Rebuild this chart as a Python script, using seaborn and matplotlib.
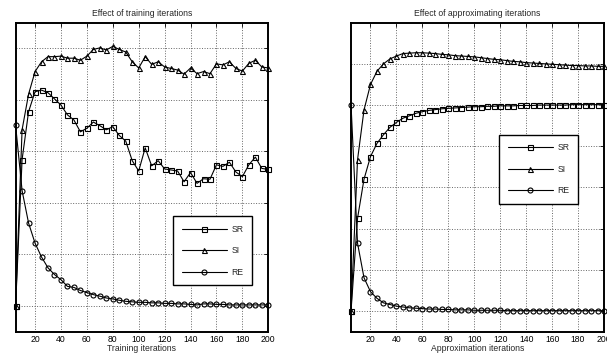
import matplotlib
matplotlib.use("Agg")
import matplotlib.pyplot as plt
import seaborn as sns
import pandas as pd

# ---- data ----
iterations = [5, 10, 15, 20, 25, 30, 35, 40, 45, 50, 55, 60, 65, 70, 75, 80, 85, 90, 95, 100,
              105, 110, 115, 120, 125, 130, 135, 140, 145, 150, 155, 160, 165, 170, 175, 180,
              185, 190, 195, 200]

train_SR = [0, 2.84, 3.77, 4.16, 4.19, 4.14, 4.02, 3.90, 3.71, 3.61, 3.38, 3.45, 3.57, 3.50,
            3.42, 3.48, 3.31, 3.20, 2.82, 2.62, 3.07, 2.72, 2.82, 2.66, 2.64, 2.62, 2.41, 2.59,
            2.38, 2.47, 2.46, 2.74, 2.71, 2.79, 2.60, 2.51, 2.74, 2.89, 2.67, 2.65]
train_SI = [0, 3.42, 4.11, 4.55, 4.74, 4.84, 4.84, 4.85, 4.81, 4.81, 4.77, 4.85, 4.98, 5.01,
            4.97, 5.04, 4.98, 4.93, 4.74, 4.62, 4.84, 4.69, 4.74, 4.64, 4.61, 4.58, 4.50, 4.62,
            4.51, 4.55, 4.51, 4.70, 4.68, 4.74, 4.61, 4.56, 4.71, 4.77, 4.64, 4.62]
train_RE = [3.51, 2.24, 1.61, 1.22, 0.95, 0.74, 0.61, 0.51, 0.38, 0.36, 0.30, 0.26, 0.22, 0.19,
            0.155, 0.136, 0.11, 0.09, 0.08, 0.07, 0.07, 0.06, 0.06, 0.05, 0.05, 0.04, 0.04, 0.03,
            0.02, 0.04, 0.04, 0.03, 0.03, 0.02, 0.02, 0.02, 0.02, 0.02, 0.02, 0.02]

approx_SR = [0, 2.25, 3.20, 3.75, 4.07, 4.28, 4.46, 4.58, 4.68, 4.74, 4.80, 4.84, 4.87, 4.89,
             4.91, 4.92, 4.93, 4.94, 4.95, 4.96, 4.96, 4.97, 4.97, 4.98, 4.98, 4.98, 4.99, 4.99,
             4.99, 5.00, 5.00, 5.00, 5.00, 5.00, 5.01, 5.01, 5.01, 5.01, 5.01, 5.01]
approx_SI = [0, 3.67, 4.88, 5.50, 5.82, 6.00, 6.12, 6.19, 6.25, 6.26, 6.27, 6.27, 6.26, 6.25,
             6.23, 6.22, 6.20, 6.19, 6.18, 6.17, 6.15, 6.13, 6.11, 6.10, 6.08, 6.06, 6.05, 6.03,
             6.02, 6.01, 6.00, 5.99, 5.98, 5.97, 5.96, 5.96, 5.95, 5.95, 5.94, 5.94]
approx_RE = [5.01, 1.65, 0.81, 0.47, 0.31, 0.20, 0.16, 0.12, 0.10, 0.08, 0.07, 0.06, 0.05, 0.05,
             0.04, 0.04, 0.03, 0.03, 0.03, 0.02, 0.02, 0.02, 0.02, 0.02, 0.01, 0.01, 0.01, 0.01,
             0.01, 0.01, 0.01, 0.01, 0.01, 0.01, 0.01, 0.01, 0.01, 0.01, 0.01, 0.01]

series_names = ["SR", "SI", "RE"]
series_markers = {"SR": "s", "SI": "^", "RE": "o"}
x_ticks = [20, 40, 60, 80, 100, 120, 140, 160, 180, 200]

titles = ["Effect of training iterations", "Effect of approximating iterations"]
xlabels = ["Training iterations", "Approximation iterations"]

# ---- style ----
sns.set_style("white")
plt.rcParams["font.family"] = ["Liberation Sans", "DejaVu Sans"]

fig = plt.figure(figsize=(6.07, 3.54), dpi=100)
ax1 = fig.add_axes([0.0257, 0.063, 0.4163, 0.873])
ax2 = fig.add_axes([0.5783, 0.063, 0.4168, 0.873])

panels = [
    (ax1, {"SR": train_SR, "SI": train_SI, "RE": train_RE}, (-0.5, 5.5), [0, 1, 2, 3, 4, 5],
     (0.623, 0.374)),
    (ax2, {"SR": approx_SR, "SI": approx_SI, "RE": approx_RE}, (-0.5, 7.0), [0, 1, 2, 3, 4, 5, 6],
     (0.585, 0.637)),
]

for i, (ax, data, ylim, yticks, leg_anchor) in enumerate(panels):
    for name in series_names:
        df = pd.DataFrame({"x": iterations, "y": data[name]})
        sns.lineplot(data=df, x="x", y="y", ax=ax, color="black", linewidth=0.8,
                     marker=series_markers[name], markersize=3.6,
                     markerfacecolor="none", markeredgecolor="black",
                     markeredgewidth=0.8, label=name, clip_on=False)
    ax.set_xlim(5, 200)
    ax.set_ylim(*ylim)
    ax.set_xticks(x_ticks)
    ax.set_yticks(yticks)
    ax.set_yticklabels([])
    ax.grid(True, linestyle=":", color="0.4", linewidth=0.7)
    ax.tick_params(axis="both", direction="in", length=3, width=0.6, top=True, right=True,
                   labelsize=6.2, pad=2.5, colors="black")
    for sp in ax.spines.values():
        sp.set_color("black")
        sp.set_linewidth(1.4)
    ax.set_title(titles[i], fontsize=6.2, pad=5)
    ax.set_xlabel(xlabels[i], fontsize=6.2, labelpad=0)
    ax.set_ylabel("")
    leg = ax.legend(loc="upper left", bbox_to_anchor=leg_anchor, borderaxespad=0,
                    fontsize=6.2, handlelength=5.3, handletextpad=0.5, labelspacing=1.45,
                    borderpad=1.0, frameon=True, fancybox=False, shadow=False)
    leg.get_frame().set_edgecolor("black")
    leg.get_frame().set_linewidth(1.0)
    leg.get_frame().set_alpha(1)

fig.savefig("out.png", dpi=100)
